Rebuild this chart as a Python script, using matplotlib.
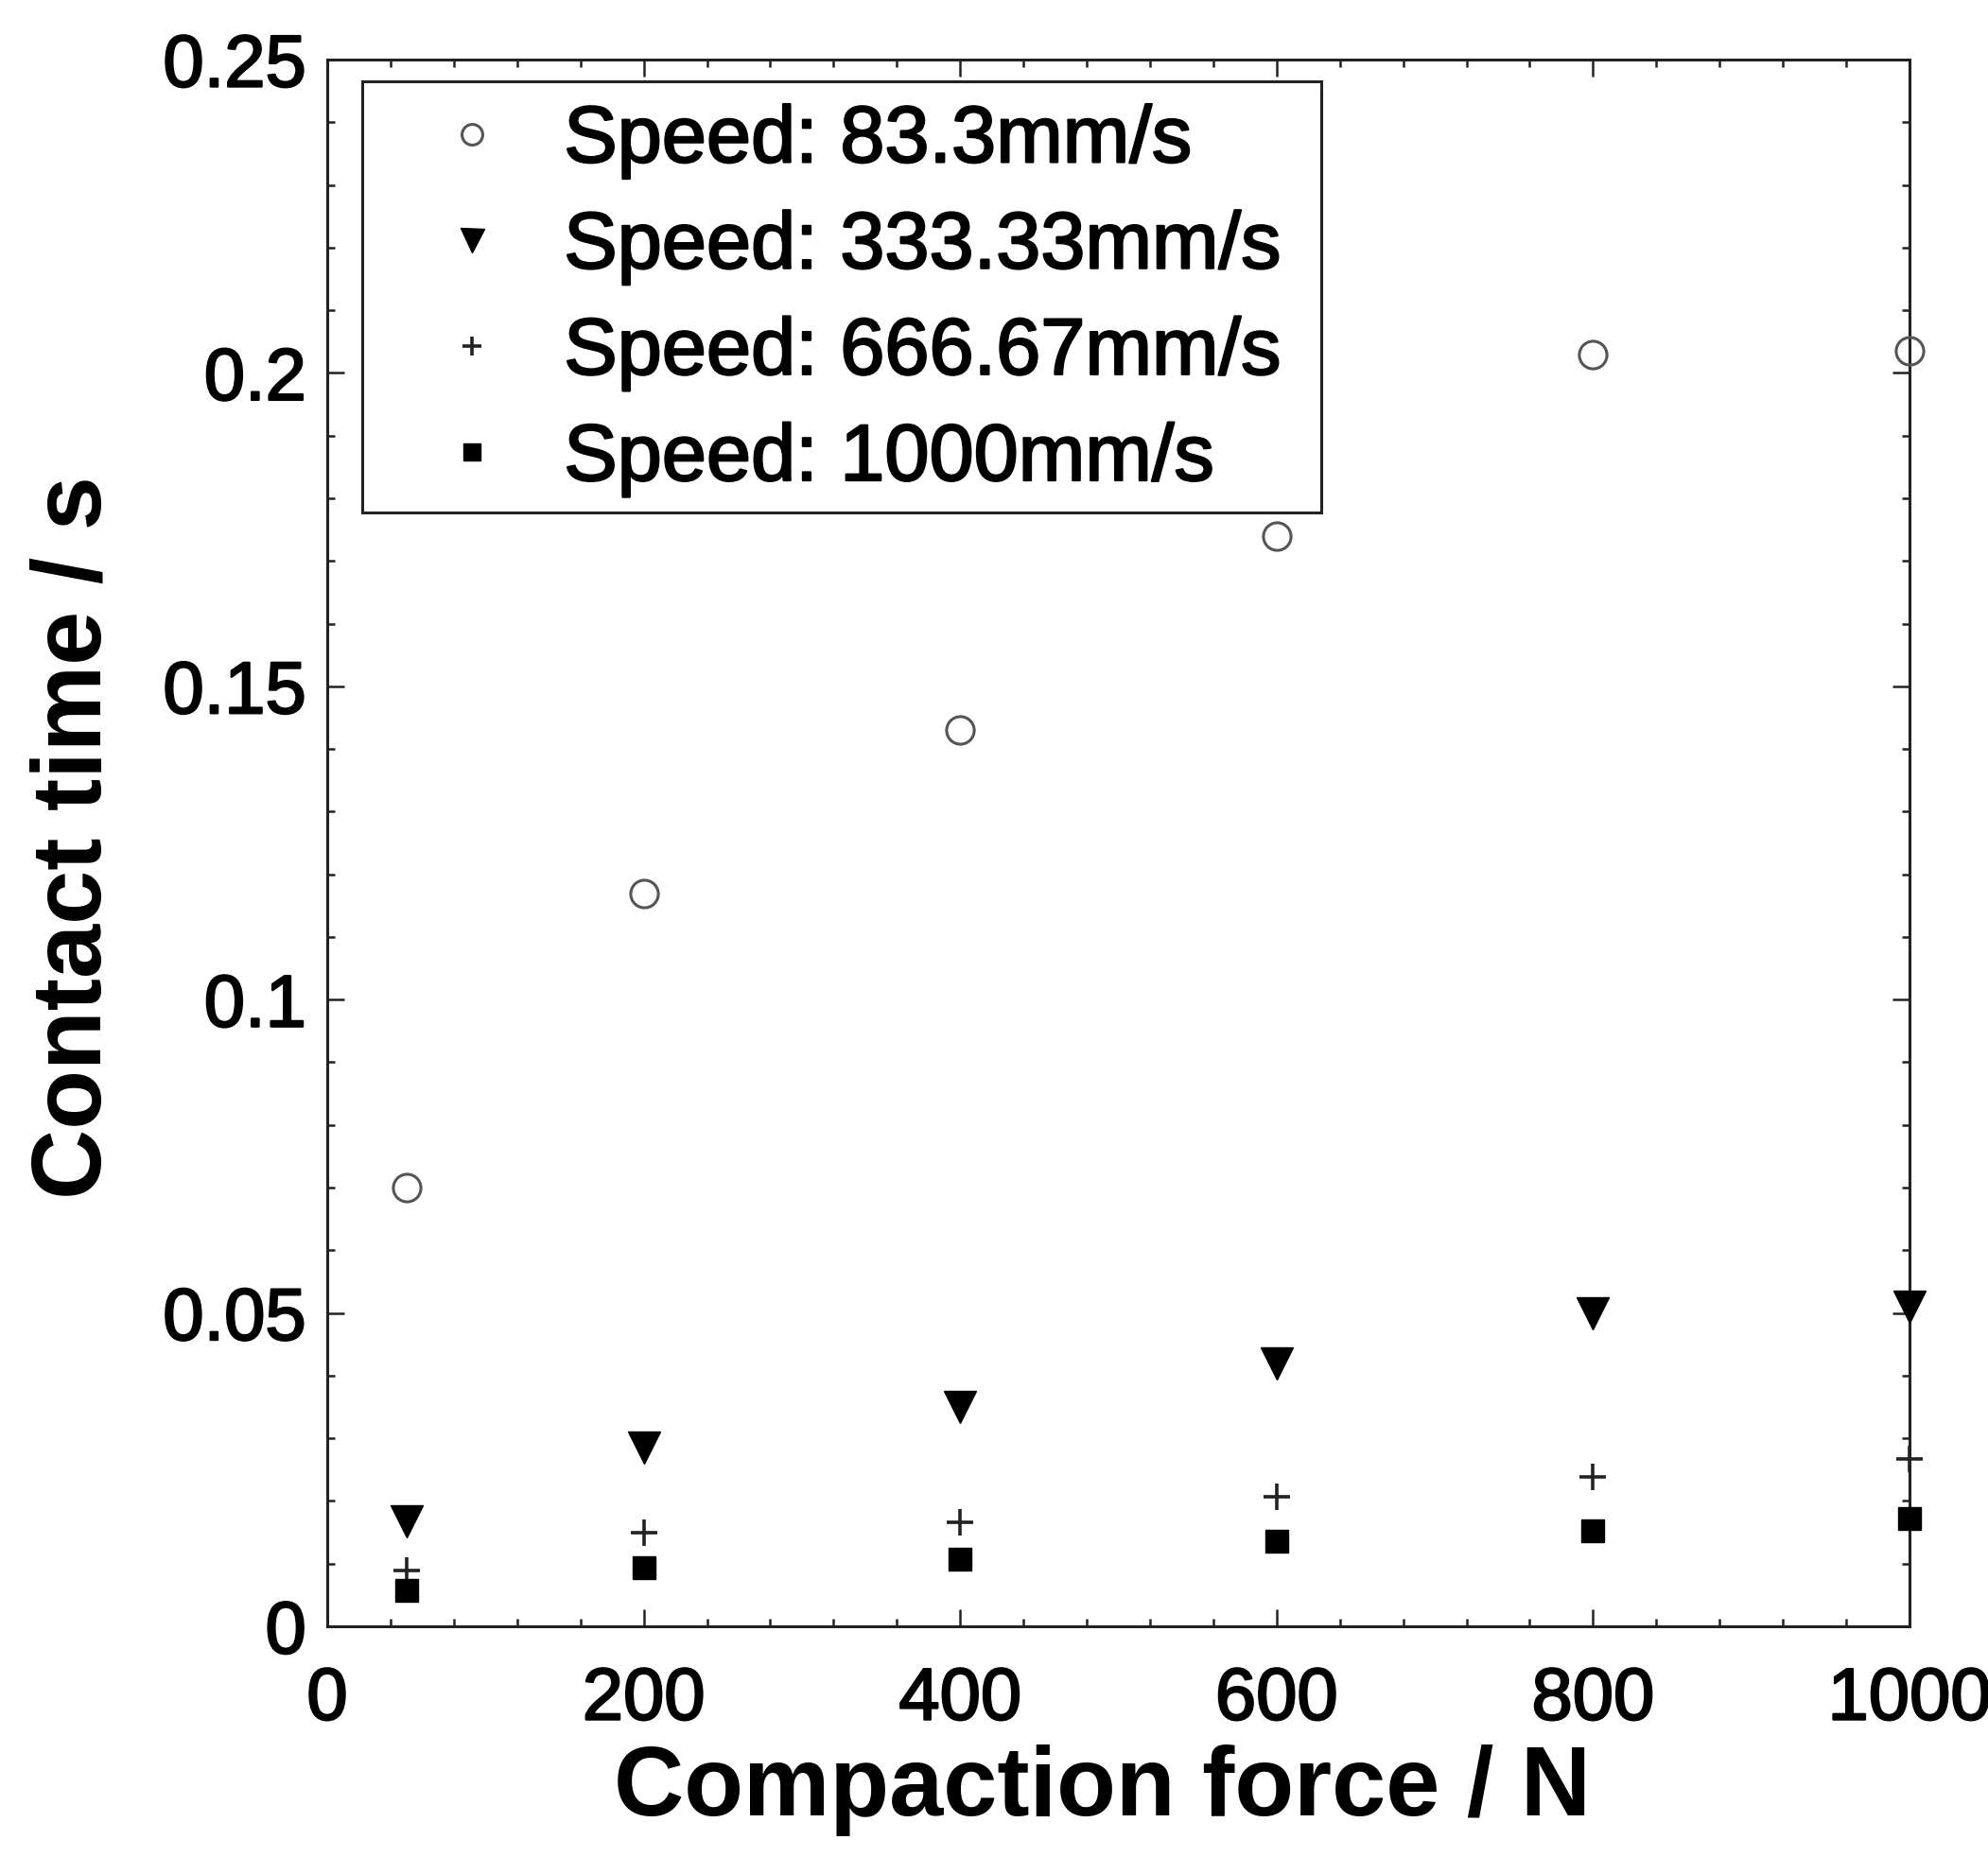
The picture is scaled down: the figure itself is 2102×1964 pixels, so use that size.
import matplotlib
matplotlib.use("Agg")
import matplotlib.pyplot as plt
import matplotlib.patheffects as pe
from matplotlib.patches import Rectangle
from matplotlib.ticker import MultipleLocator

plt.rcParams['font.family'] = ['Liberation Sans', 'DejaVu Sans']

# Compaction force (N) and measured contact times (s) for each roller speed
force = [50, 200, 400, 600, 800, 1000]
t_83 = [0.070, 0.117, 0.143, 0.174, 0.203, 0.2035]
t_333 = [0.0168, 0.0285, 0.035, 0.042, 0.050, 0.051]
t_667 = [0.0089, 0.015, 0.0166, 0.0207, 0.0239, 0.0267]
t_1000 = [0.0057, 0.0093, 0.0107, 0.0135, 0.0152, 0.0172]

labels = ["Speed: 83.3mm/s", "Speed: 333.33mm/s",
          "Speed: 666.67mm/s", "Speed: 1000mm/s"]

# slightly heavier strokes for the regular-weight text
thick = [pe.withStroke(linewidth=1.6, foreground='black')]

fig = plt.figure(figsize=(21.02, 19.65), dpi=100)
ax = fig.add_axes([0.1646, 0.1242, 0.7959, 0.8432])

ax.plot(force, t_83, ls='none', marker='o', ms=21, mfc='none',
        mec='#555555', mew=2.2, label=labels[0], clip_on=False, zorder=3)
ax.plot(force, t_333, ls='none', marker='v', ms=24, mfc='black',
        mec='black', label=labels[1], clip_on=False, zorder=3)
ax.plot(force, t_667, ls='none', marker='+', ms=20, mec='#222222',
        mew=2.6, label=labels[2], clip_on=False, zorder=3)
ax.plot(force, t_1000, ls='none', marker='s', ms=17, mfc='black',
        mec='black', label=labels[3], clip_on=False, zorder=3)

ax.set_xlim(0, 1000)
ax.set_ylim(0, 0.25)
ax.xaxis.set_major_locator(MultipleLocator(200))
ax.xaxis.set_minor_locator(MultipleLocator(40))
ax.yaxis.set_major_locator(MultipleLocator(0.05))
ax.yaxis.set_minor_locator(MultipleLocator(0.01))
ax.set_yticks([0, 0.05, 0.1, 0.15, 0.2, 0.25])
ax.set_yticklabels(["0", "0.05", "0.1", "0.15", "0.2", "0.25"])
ax.set_xticks([0, 200, 400, 600, 800, 1000])
ax.set_xticklabels(["0", "200", "400", "600", "800", "1000"])

for s in ax.spines.values():
    s.set_linewidth(2.2)
    s.set_color('#222222')

ax.tick_params(which='both', direction='in', top=True, right=True,
               color='#222222', width=1.8)
ax.tick_params(which='major', length=13)
ax.tick_params(which='minor', length=6)
ax.tick_params(axis='x', which='major', labelsize=56, pad=30)
ax.tick_params(axis='y', which='major', labelsize=56, pad=16)
for lbl in ax.get_xticklabels() + ax.get_yticklabels():
    lbl.set_path_effects(thick)

ax.set_xlabel("Compaction force / N", fontsize=74, fontweight='bold')
ax.set_ylabel("Contact time / s", fontsize=74, fontweight='bold')
ax.xaxis.set_label_coords(0.49, -0.104)
ax.xaxis.label.set_va('center')
ax.yaxis.set_label_coords(-0.159, 0.504)
ax.yaxis.label.set_va('center')

# Framed legend box
ax.add_patch(Rectangle((0.022, 0.711), 0.606, 0.275, transform=ax.transAxes,
                       fill=True, facecolor='white', edgecolor='#222222',
                       lw=2.2, zorder=4))
leg = ax.legend(loc='upper left', bbox_to_anchor=(0.066, 0.972),
                frameon=False, fontsize=61, borderpad=0, borderaxespad=0,
                handlelength=1.0, handletextpad=0.65, labelspacing=0.38,
                markerscale=0.75)
leg.set_zorder(5)
for t in leg.get_texts():
    t.set_path_effects(thick)

fig.savefig("out.png", dpi=100, facecolor='white')
